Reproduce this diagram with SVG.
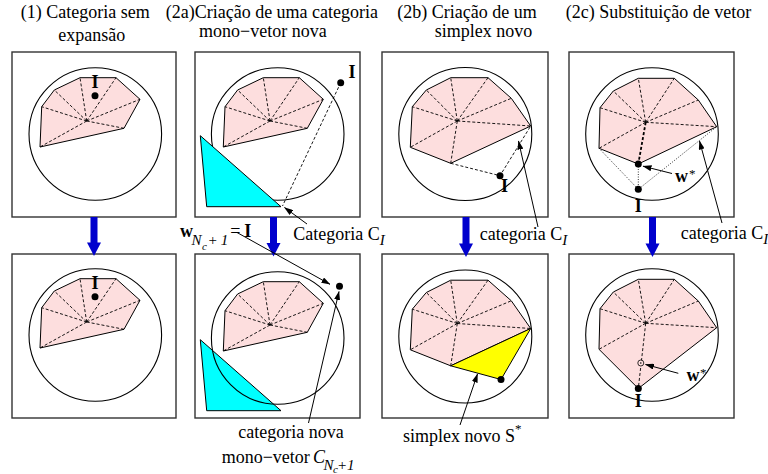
<svg xmlns="http://www.w3.org/2000/svg" width="768" height="474" viewBox="0 0 768 474">
<defs>
<marker id="ah" markerUnits="userSpaceOnUse" markerWidth="9" markerHeight="6" refX="8.5" refY="3" orient="auto"><path d="M0,0 L9,3 L0,6 z" fill="#000"/></marker>
</defs>
<style>
text{font-family:"Liberation Serif","Times New Roman",serif;fill:#000;font-size:18px}
.b{font-weight:bold}
.it{font-style:italic}
.s15{font-size:15px}
.s11{font-size:11px}
.s13{font-size:13px}
.box{fill:#fff;stroke:#333;stroke-width:1.4}
.circ{fill:none;stroke:#000;stroke-width:1.1}
.cat{fill:#fddede;stroke:#000;stroke-width:1}
.dash{fill:none;stroke:#000;stroke-width:0.9;stroke-dasharray:3 2}
.dashb{fill:none;stroke:#000;stroke-width:1.8;stroke-dasharray:3 2}
.dot{fill:none;stroke:#000;stroke-width:0.8;stroke-dasharray:1 1.5}
.pt{fill:#000}
.con{fill:none;stroke:#000;stroke-width:1;marker-end:url(#ah)}
.blue{fill:#0000cd}
.cyan{fill:#00ffff;stroke:#000;stroke-width:1}
.yel{fill:#ffff00;stroke:#000;stroke-width:1}
</style>
<rect width="768" height="474" fill="#fff"/>

<g id="titles">
<text x="20.7" y="18.3">(1) Categoria sem</text>
<text x="58.3" y="40.5">expansão</text>
<text x="165.7" y="18.3">(2a)Criação de uma categoria</text>
<text x="199" y="36.5">mono−vetor nova</text>
<text x="397.3" y="18.3">(2b) Criação de um</text>
<text x="434.7" y="36.5">simplex novo</text>
<text x="565.7" y="18.3">(2c) Substituição de vetor</text>
</g>

<g id="p1-top">
<rect class="box" x="12" y="52" width="164" height="165"/>
<circle class="circ" cx="95.3" cy="134" r="66.3"/>
<polygon class="cat" points="80,77.7 116,77.7 140,99.3 124,128.3 40,147 41.7,106.7 54.3,90"/>
<path class="dash" d="M86.7,121 L80,77.7 M86.7,121 L116,77.7 M86.7,121 L140,99.3 M86.7,121 L124,128.3 M86.7,121 L40,147 M86.7,121 L41.7,106.7 M86.7,121 L54.3,90"/>
<circle class="pt" cx="95" cy="95.7" r="3.5"/>
<text class="b" x="95" y="88.3" text-anchor="middle">I</text>
</g>

<g id="p1-bottom">
<rect class="box" x="12" y="254" width="164" height="164"/>
<g transform="translate(0,201)">
<circle class="circ" cx="95.3" cy="134" r="66.3"/>
<polygon class="cat" points="80,77.7 116,77.7 140,99.3 124,128.3 40,147 41.7,106.7 54.3,90"/>
<path class="dash" d="M86.7,121 L80,77.7 M86.7,121 L116,77.7 M86.7,121 L140,99.3 M86.7,121 L124,128.3 M86.7,121 L40,147 M86.7,121 L41.7,106.7 M86.7,121 L54.3,90"/>
<circle class="pt" cx="95" cy="95.7" r="3.5"/>
<text class="b" x="95" y="88.3" text-anchor="middle">I</text>
</g>
</g>

<g id="p2a-top">
<rect class="box" x="195" y="52" width="165" height="165"/>
<circle class="circ" cx="277.7" cy="134" r="66.3"/>
<polygon class="cat" points="263.3,77.7 299.3,77.7 323.3,99.3 307.3,128.3 223.3,147 225,106.7 237.6,90"/>
<path class="dash" d="M270,121 L263.3,77.7 M270,121 L299.3,77.7 M270,121 L323.3,99.3 M270,121 L307.3,128.3 M270,121 L223.3,147 M270,121 L225,106.7 M270,121 L237.6,90"/>
<polygon class="cyan" points="200.3,135.7 206.7,206.7 281,206.7"/>
<path class="dash" d="M340.7,82.7 L282.5,206" stroke-dasharray="2 2"/>
<circle class="pt" cx="340.7" cy="82.7" r="3.5"/>
<text class="b" x="352" y="78.3" text-anchor="middle">I</text>
<text x="293.3" y="240">Categoria C<tspan class="it s15" dy="5">I</tspan></text>
</g>

<g id="p2a-bottom">
<rect class="box" x="195" y="254" width="165" height="164"/>
<g transform="translate(0,204)">
<polygon class="cat" points="263.3,77.7 299.3,77.7 323.3,99.3 307.3,128.3 223.3,147 225,106.7 237.6,90"/>
<path class="dash" d="M270,121 L263.3,77.7 M270,121 L299.3,77.7 M270,121 L323.3,99.3 M270,121 L307.3,128.3 M270,121 L223.3,147 M270,121 L225,106.7 M270,121 L237.6,90"/>
<polygon class="cyan" points="200.3,135.7 206.7,206.7 281,206.7"/>
<circle class="circ" cx="277.7" cy="134" r="66.3"/>
<circle class="pt" cx="339.5" cy="82.3" r="3.5"/>
</g>
<text x="180" y="237"><tspan class="b">w</tspan><tspan class="it s15" dy="8" dx="-1.5">N</tspan><tspan class="it s11" dy="4.5" dx="0.5">c</tspan><tspan class="s15" dy="-4.5" dx="1.5">+ <tspan class="it">1</tspan></tspan><tspan dy="-8" dx="2">=</tspan><tspan class="b" dx="4">I</tspan></text>
<text x="238.3" y="438.3">categoria nova</text>
<text x="221.7" y="463.3">mono−vetor</text>
<text x="313" y="463.3"><tspan class="it">C</tspan><tspan class="it s15" dy="6.5" dx="-1.5">N</tspan><tspan class="it s11" dy="2.8" dx="-0.5">c</tspan><tspan class="it s15" dy="-2.8" dx="-1">+1</tspan></text>
</g>

<g id="p2b-top">
<rect class="box" x="382" y="52" width="166" height="165"/>
<circle class="circ" cx="465.3" cy="134" r="66.5"/>
<polygon class="cat" points="450.7,77.7 488,77.7 511.3,98.3 530.7,126 450.7,163.3 410.3,147.3 412.3,106.7 426.3,90"/>
<path class="dash" d="M457.3,121 L450.7,77.7 M457.3,121 L488,77.7 M457.3,121 L511.3,98.3 M457.3,121 L530.7,126 M457.3,121 L450.7,163.3 M457.3,121 L410.3,147.3 M457.3,121 L412.3,106.7 M457.3,121 L426.3,90 M450.7,163.3 L500,175.7 L530.7,126"/>
<circle class="pt" cx="500" cy="175.7" r="3.5"/>
<text class="b" x="504.5" y="192" text-anchor="middle">I</text>
<text x="479.7" y="240">categoria C<tspan class="it s15" dy="5">I</tspan></text>
</g>

<g id="p2b-bottom">
<rect class="box" x="382" y="254" width="166" height="164"/>
<g transform="translate(0,202.5)">
<circle class="circ" cx="465.3" cy="134" r="66.5"/>
<polygon class="cat" points="450.7,77.7 488,77.7 511.3,98.3 530.7,126 450.7,163.3 410.3,147.3 412.3,106.7 426.3,90"/>
<path class="dash" d="M457.3,121 L450.7,77.7 M457.3,121 L488,77.7 M457.3,121 L511.3,98.3 M457.3,121 L530.7,126 M457.3,121 L450.7,163.3 M457.3,121 L410.3,147.3 M457.3,121 L412.3,106.7 M457.3,121 L426.3,90"/>
<polygon class="yel" points="450.7,163.3 530.7,126 501,177"/>
<circle class="pt" cx="501" cy="177" r="3.5"/>
</g>
<text x="403" y="441.7">simplex novo S<tspan class="s13" dy="-9">*</tspan></text>
</g>

<g id="p2c-top">
<rect class="box" x="569" y="52" width="165" height="165"/>
<circle class="circ" cx="652" cy="134" r="66.3"/>
<polygon class="cat" points="638.3,78.3 674.3,78.3 698.3,100 716.7,126.7 638.3,164 599,148.3 600,107.7 613.3,91"/>
<path class="dash" d="M645.7,122.3 L638.3,78.3 M645.7,122.3 L674.3,78.3 M645.7,122.3 L698.3,100 M645.7,122.3 L716.7,126.7 M645.7,122.3 L599,148.3 M645.7,122.3 L600,107.7 M645.7,122.3 L613.3,91"/>
<path class="dashb" d="M645.7,122.3 L638.3,164"/>
<path class="dot" d="M599,148.3 L638.3,189.3 L716.7,126.7 M638.3,164 L638.3,189.3"/>
<circle class="pt" cx="638.3" cy="164" r="3.5"/>
<circle class="pt" cx="638.3" cy="189.3" r="3.5"/>
<text class="b" x="638.3" y="212.3" text-anchor="middle">I</text>
<text x="675" y="182.3"><tspan class="b">w</tspan><tspan class="s13" dy="-4.3" dx="1">*</tspan></text>
<text x="680.7" y="238.5">categoria C<tspan class="it s15" dy="5">I</tspan></text>
</g>

<g id="p2c-bottom">
<rect class="box" x="569" y="254" width="165" height="164"/>
<g transform="translate(0,201)">
<circle class="circ" cx="652" cy="134" r="66.3"/>
<polygon class="cat" points="638.3,78.3 674.3,78.3 698.3,100 716.7,126.7 638.3,187.5 599,148.3 600,107.7 613.3,91"/>
<path class="dash" d="M645.7,122.3 L638.3,78.3 M645.7,122.3 L674.3,78.3 M645.7,122.3 L698.3,100 M645.7,122.3 L716.7,126.7 M645.7,122.3 L638.3,187.5 M645.7,122.3 L599,148.3 M645.7,122.3 L600,107.7 M645.7,122.3 L613.3,91"/>
<circle cx="640.8" cy="162" r="3" fill="#fddede" stroke="#000" stroke-width="0.8"/>
<circle class="pt" cx="640.8" cy="162" r="0.8"/>
<circle class="pt" cx="638.3" cy="187.5" r="3.5"/>
</g>
<text class="b" x="638.3" y="406.7" text-anchor="middle">I</text>
<text x="686.5" y="381"><tspan class="b">w</tspan><tspan class="s13" dy="-4" dx="0.5">*</tspan></text>
</g>

<g id="connectors">
<g class="blue">
<rect x="90.5" y="217" width="7" height="26"/><polygon points="87,242.5 101,242.5 94,256"/>
<rect x="270" y="217" width="7" height="27"/><polygon points="266.5,243 280.5,243 273.5,256.5"/>
<rect x="462.5" y="217" width="7" height="27"/><polygon points="459,243.5 473,243.5 466,257"/>
<rect x="649" y="217" width="7" height="27"/><polygon points="645.5,243.5 659.5,243.5 652.5,257"/>
</g>
<path class="con" d="M307,224 L284.5,207.5"/>
<path class="con" d="M237,232.5 L330,284.3"/>
<path class="con" d="M308.5,423 L339,291.5"/>
<path class="con" d="M538,227 L518.5,141"/>
<path class="con" d="M460,425 L477.5,374"/>
<path class="con" d="M722,223 L699.5,141"/>
<path class="con" d="M672,173.5 L643,166.2"/>
<path class="con" d="M678.3,373.3 L645.5,364.5"/>
</g>
</svg>
